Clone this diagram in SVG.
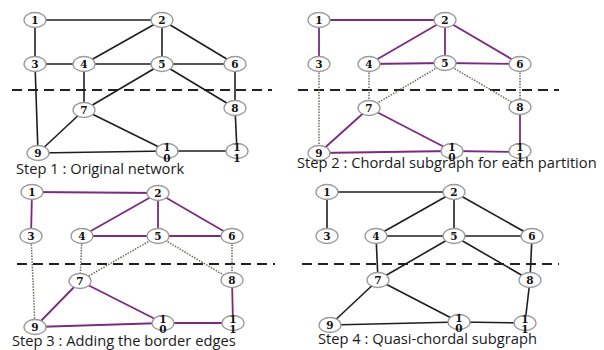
<svg xmlns="http://www.w3.org/2000/svg" width="604" height="350" viewBox="0 0 604 350">
<style>
.bg{fill:#fff}
.n ellipse{fill:#fff;stroke:#9a9a9a;stroke-width:1.3}
.n text{font-family:"DejaVu Serif",serif;font-weight:bold;font-size:10.5px;fill:#111;text-anchor:middle}
.k{stroke:#1e1e1e;stroke-width:1.6;fill:none}
.p{stroke:#7b2a80;stroke-width:1.8;fill:none}
.d{stroke:#6b6b5a;stroke-width:1.5;stroke-dasharray:1.5 1.3;fill:none}
.cut{stroke:#222;stroke-width:2.2;stroke-dasharray:10 6;fill:none}
.cap{font-family:"Open Sans","Liberation Sans",sans-serif;font-size:14.7px;fill:#1a1a1a}
</style>
<rect class="bg" width="604" height="350"/>

<!-- Panel 1 -->
<g id="p1-connectors">
<line class="cut" x1="12" y1="90" x2="272" y2="90"/>
<line class="k" x1="35" y1="20" x2="162" y2="20"/>
<line class="k" x1="35" y1="20" x2="35" y2="64"/>
<line class="k" x1="162" y1="20" x2="84" y2="64"/>
<line class="k" x1="162" y1="20" x2="162" y2="64"/>
<line class="k" x1="162" y1="20" x2="235" y2="64"/>
<line class="k" x1="35" y1="64" x2="84" y2="64"/>
<line class="k" x1="84" y1="64" x2="162" y2="64"/>
<line class="k" x1="162" y1="64" x2="235" y2="64"/>
<line class="k" x1="35" y1="64" x2="38" y2="153"/>
<line class="k" x1="84" y1="64" x2="84" y2="110"/>
<line class="k" x1="162" y1="64" x2="84" y2="110"/>
<line class="k" x1="162" y1="64" x2="235" y2="108"/>
<line class="k" x1="235" y1="64" x2="235" y2="108"/>
<line class="k" x1="84" y1="110" x2="38" y2="153"/>
<line class="k" x1="84" y1="110" x2="167" y2="151"/>
<line class="k" x1="38" y1="153" x2="167" y2="151"/>
<line class="k" x1="167" y1="151" x2="237" y2="151"/>
<line class="k" x1="235" y1="108" x2="237" y2="151"/>
</g>
<g id="p1-n1" class="n"><ellipse cx="35" cy="20" rx="11" ry="7.5"/><text x="35" y="24">1</text></g>
<g id="p1-n2" class="n"><ellipse cx="162" cy="20" rx="11" ry="7.5"/><text x="162" y="24">2</text></g>
<g id="p1-n3" class="n"><ellipse cx="35" cy="64" rx="11" ry="7.5"/><text x="35" y="68">3</text></g>
<g id="p1-n4" class="n"><ellipse cx="84" cy="64" rx="11" ry="7.5"/><text x="84" y="68">4</text></g>
<g id="p1-n5" class="n"><ellipse cx="162" cy="64" rx="11" ry="7.5"/><text x="162" y="68">5</text></g>
<g id="p1-n6" class="n"><ellipse cx="235" cy="64" rx="11" ry="7.5"/><text x="235" y="68">6</text></g>
<g id="p1-n7" class="n"><ellipse cx="84" cy="110" rx="11" ry="7.5"/><text x="84" y="114">7</text></g>
<g id="p1-n8" class="n"><ellipse cx="235" cy="108" rx="11" ry="7.5"/><text x="235" y="112">8</text></g>
<g id="p1-n9" class="n"><ellipse cx="38" cy="153" rx="11" ry="7.5"/><text x="38" y="157">9</text></g>
<g id="p1-n10" class="n"><ellipse cx="167" cy="151" rx="11" ry="7.5"/><text x="167" y="151">1</text><text x="167" y="162">0</text></g>
<g id="p1-n11" class="n"><ellipse cx="237" cy="151" rx="11" ry="7.5"/><text x="237" y="151">1</text><text x="237" y="162">1</text></g>
<text class="cap" x="16" y="174">Step 1 : Original network</text>

<!-- Panel 2 -->
<g id="p2-connectors">
<line class="cut" x1="298" y1="90" x2="559" y2="90"/>
<line class="p" x1="319" y1="20" x2="445" y2="20"/>
<line class="p" x1="319" y1="20" x2="319" y2="64"/>
<line class="p" x1="445" y1="20" x2="369" y2="64"/>
<line class="p" x1="445" y1="20" x2="445" y2="63"/>
<line class="p" x1="445" y1="20" x2="520" y2="64"/>
<line class="p" x1="369" y1="64" x2="445" y2="63"/>
<line class="p" x1="445" y1="63" x2="520" y2="64"/>
<line class="d" x1="319" y1="64" x2="319" y2="153"/>
<line class="d" x1="369" y1="64" x2="369" y2="108"/>
<line class="d" x1="445" y1="63" x2="369" y2="108"/>
<line class="d" x1="445" y1="63" x2="520" y2="107"/>
<line class="d" x1="520" y1="64" x2="520" y2="107"/>
<line class="p" x1="369" y1="108" x2="319" y2="153"/>
<line class="p" x1="369" y1="108" x2="452" y2="151"/>
<line class="p" x1="319" y1="153" x2="452" y2="151"/>
<line class="p" x1="452" y1="151" x2="520" y2="152"/>
<line class="p" x1="520" y1="107" x2="520" y2="152"/>
</g>
<g id="p2-n1" class="n"><ellipse cx="319" cy="20" rx="11" ry="7.5"/><text x="319" y="24">1</text></g>
<g id="p2-n2" class="n"><ellipse cx="445" cy="20" rx="11" ry="7.5"/><text x="445" y="24">2</text></g>
<g id="p2-n3" class="n"><ellipse cx="319" cy="64" rx="11" ry="7.5"/><text x="319" y="68">3</text></g>
<g id="p2-n4" class="n"><ellipse cx="369" cy="64" rx="11" ry="7.5"/><text x="369" y="68">4</text></g>
<g id="p2-n5" class="n"><ellipse cx="445" cy="63" rx="11" ry="7.5"/><text x="445" y="67">5</text></g>
<g id="p2-n6" class="n"><ellipse cx="520" cy="64" rx="11" ry="7.5"/><text x="520" y="68">6</text></g>
<g id="p2-n7" class="n"><ellipse cx="369" cy="108" rx="11" ry="7.5"/><text x="369" y="112">7</text></g>
<g id="p2-n8" class="n"><ellipse cx="520" cy="107" rx="11" ry="7.5"/><text x="520" y="111">8</text></g>
<g id="p2-n9" class="n"><ellipse cx="319" cy="153" rx="11" ry="7.5"/><text x="319" y="157">9</text></g>
<g id="p2-n10" class="n"><ellipse cx="452" cy="151" rx="11" ry="7.5"/><text x="452" y="151">1</text><text x="452" y="161">0</text></g>
<g id="p2-n11" class="n"><ellipse cx="520" cy="151" rx="11" ry="7.5"/><text x="520" y="151">1</text><text x="520" y="161">1</text></g>
<text class="cap" x="297" y="168">Step 2 : Chordal subgraph for each partition</text>

<!-- Panel 3 -->
<g id="p3-connectors">
<line class="cut" x1="17" y1="264" x2="275" y2="264"/>
<line class="p" x1="32" y1="192" x2="158" y2="193"/>
<line class="p" x1="32" y1="192" x2="31" y2="236"/>
<line class="p" x1="158" y1="193" x2="82" y2="236"/>
<line class="p" x1="158" y1="193" x2="158" y2="236"/>
<line class="p" x1="158" y1="193" x2="232" y2="236"/>
<line class="p" x1="82" y1="236" x2="158" y2="236"/>
<line class="p" x1="158" y1="236" x2="232" y2="236"/>
<line class="d" x1="31" y1="236" x2="35" y2="327"/>
<line class="d" x1="82" y1="236" x2="80" y2="281"/>
<line class="d" x1="158" y1="236" x2="80" y2="281"/>
<line class="d" x1="158" y1="236" x2="232" y2="280"/>
<line class="d" x1="232" y1="236" x2="232" y2="280"/>
<line class="p" x1="80" y1="281" x2="35" y2="327"/>
<line class="p" x1="80" y1="281" x2="163" y2="323"/>
<line class="p" x1="35" y1="327" x2="163" y2="323"/>
<line class="p" x1="163" y1="323" x2="233" y2="323"/>
<line class="p" x1="232" y1="280" x2="233" y2="323"/>
</g>
<g id="p3-n1" class="n"><ellipse cx="32" cy="192" rx="11" ry="7.5"/><text x="32" y="196">1</text></g>
<g id="p3-n2" class="n"><ellipse cx="158" cy="193" rx="11" ry="7.5"/><text x="158" y="197">2</text></g>
<g id="p3-n3" class="n"><ellipse cx="31" cy="236" rx="11" ry="7.5"/><text x="31" y="240">3</text></g>
<g id="p3-n4" class="n"><ellipse cx="82" cy="236" rx="11" ry="7.5"/><text x="82" y="240">4</text></g>
<g id="p3-n5" class="n"><ellipse cx="158" cy="236" rx="11" ry="7.5"/><text x="158" y="240">5</text></g>
<g id="p3-n6" class="n"><ellipse cx="232" cy="236" rx="11" ry="7.5"/><text x="232" y="240">6</text></g>
<g id="p3-n7" class="n"><ellipse cx="80" cy="281" rx="11" ry="7.5"/><text x="80" y="285">7</text></g>
<g id="p3-n8" class="n"><ellipse cx="232" cy="280" rx="11" ry="7.5"/><text x="232" y="284">8</text></g>
<g id="p3-n9" class="n"><ellipse cx="35" cy="327" rx="11" ry="7.5"/><text x="35" y="331">9</text></g>
<g id="p3-n10" class="n"><ellipse cx="163" cy="323" rx="11" ry="7.5"/><text x="163" y="323">1</text><text x="163" y="333">0</text></g>
<g id="p3-n11" class="n"><ellipse cx="233" cy="323" rx="11" ry="7.5"/><text x="233" y="323">1</text><text x="233" y="333">1</text></g>
<text class="cap" x="12" y="346">Step 3 : Adding the border edges</text>

<!-- Panel 4 -->
<g id="p4-connectors">
<line class="cut" x1="302" y1="264" x2="559" y2="264"/>
<line class="k" x1="327" y1="192" x2="454" y2="192"/>
<line class="k" x1="327" y1="192" x2="327" y2="236"/>
<line class="k" x1="454" y1="192" x2="376" y2="236"/>
<line class="k" x1="454" y1="192" x2="454" y2="236"/>
<line class="k" x1="454" y1="192" x2="532" y2="236"/>
<line class="k" x1="376" y1="236" x2="454" y2="236"/>
<line class="k" x1="454" y1="236" x2="532" y2="236"/>
<line class="k" x1="376" y1="236" x2="378" y2="280"/>
<line class="k" x1="454" y1="236" x2="378" y2="280"/>
<line class="k" x1="454" y1="236" x2="530" y2="280"/>
<line class="k" x1="532" y1="236" x2="530" y2="280"/>
<line class="k" x1="378" y1="280" x2="330" y2="325"/>
<line class="k" x1="378" y1="280" x2="459" y2="322"/>
<line class="k" x1="330" y1="325" x2="459" y2="322"/>
<line class="k" x1="459" y1="322" x2="525" y2="323"/>
<line class="k" x1="530" y1="280" x2="525" y2="323"/>
</g>
<g id="p4-n1" class="n"><ellipse cx="327" cy="192" rx="11" ry="7.5"/><text x="327" y="196">1</text></g>
<g id="p4-n2" class="n"><ellipse cx="454" cy="192" rx="11" ry="7.5"/><text x="454" y="196">2</text></g>
<g id="p4-n3" class="n"><ellipse cx="327" cy="236" rx="11" ry="7.5"/><text x="327" y="240">3</text></g>
<g id="p4-n4" class="n"><ellipse cx="376" cy="236" rx="11" ry="7.5"/><text x="376" y="240">4</text></g>
<g id="p4-n5" class="n"><ellipse cx="454" cy="236" rx="11" ry="7.5"/><text x="454" y="240">5</text></g>
<g id="p4-n6" class="n"><ellipse cx="532" cy="236" rx="11" ry="7.5"/><text x="532" y="240">6</text></g>
<g id="p4-n7" class="n"><ellipse cx="378" cy="280" rx="11" ry="7.5"/><text x="378" y="284">7</text></g>
<g id="p4-n8" class="n"><ellipse cx="530" cy="280" rx="11" ry="7.5"/><text x="530" y="284">8</text></g>
<g id="p4-n9" class="n"><ellipse cx="330" cy="325" rx="11" ry="7.5"/><text x="330" y="329">9</text></g>
<g id="p4-n10" class="n"><ellipse cx="459" cy="322" rx="11" ry="7.5"/><text x="459" y="322">1</text><text x="459" y="332">0</text></g>
<g id="p4-n11" class="n"><ellipse cx="525" cy="323" rx="11" ry="7.5"/><text x="525" y="323">1</text><text x="525" y="333">1</text></g>
<text class="cap" x="318" y="344">Step 4 : Quasi-chordal subgraph</text>
</svg>
